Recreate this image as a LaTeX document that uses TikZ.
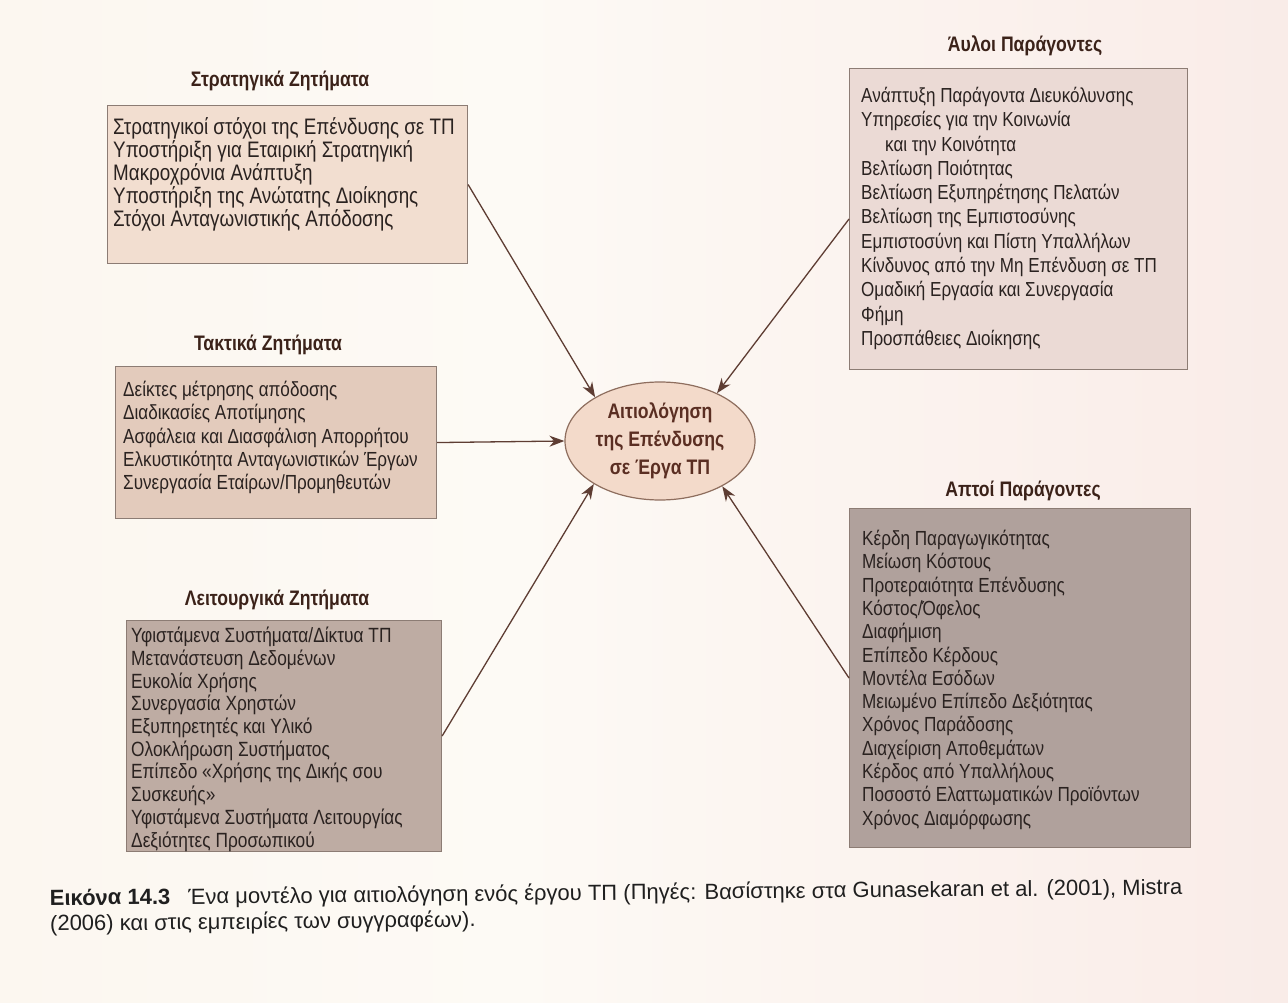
\documentclass[tikz,border=0pt]{standalone}
\usepackage{fontspec}
\setmainfont{Liberation Sans}
\newfontfamily\cond[FakeStretch=0.84]{Liberation Sans}
\usetikzlibrary{shapes.geometric,arrows.meta}

\definecolor{bgL}{HTML}{FAF3EA}
\definecolor{bgM}{HTML}{FDFAF5}
\definecolor{bgR}{HTML}{F6E0DD}
\definecolor{fillS}{HTML}{F2DED0}
\definecolor{fillT}{HTML}{E3CBBC}
\definecolor{fillO}{HTML}{BEACA3}
\definecolor{fillA}{HTML}{EBDAD5}
\definecolor{fillP}{HTML}{B0A19C}
\definecolor{boxline}{HTML}{8C7C74}
\definecolor{ellfill}{HTML}{F3DACA}
\definecolor{ellline}{HTML}{8E6E5E}
\definecolor{elltext}{HTML}{5A2E22}
\definecolor{titletext}{HTML}{3B2219}
\definecolor{bodytext}{HTML}{2A2220}
\definecolor{arrowcol}{HTML}{5E3D33}

\pgfdeclarehorizontalshading{pagebg}{100bp}{color(0bp)=(bgL); color(45bp)=(bgM); color(100bp)=(bgR)}

\tikzset{
  panel/.style={draw=boxline, line width=1.1pt, inner sep=0pt, anchor=north west},
  listtext/.style 2 args={anchor=north west, inner sep=0pt, align=left, text=bodytext,
    font={\cond\fontsize{#1}{#2}\selectfont}},
  heading/.style={inner sep=0pt, text=titletext, font={\cond\bfseries\fontsize{21}{24}\selectfont}},
  feed/.style={draw=arrowcol, line width=1.3pt, -{Stealth[length=15pt,width=11pt]}},
}

\begin{document}
\begin{tikzpicture}[x=1pt,y=-1pt]
\useasboundingbox (0,0) rectangle (1288,1003);
\shade[shading=pagebg] (0,0) rectangle (1288,1003);

% central ellipse
\node[ellipse, draw=ellline, line width=1.2pt, fill=ellfill, minimum width=190, minimum height=118,
      inner sep=0pt, align=center, text=elltext,
      font={\cond\bfseries\fontsize{21}{28}\selectfont}] (ell) at (660,441)
  {Αιτιολόγηση\\της Επένδυσης\\σε Έργα ΤΠ};

% strategic issues
\node[heading] (sttl) at (280,81) {Στρατηγικά Ζητήματα};
\node[panel, fill=fillS, minimum width=360, minimum height=158] (sbox) at (107,105) {};
\node[listtext={22.4}{23}] (stxt) at (113,117)
  {Στρατηγικοί στόχοι της Επένδυσης σε ΤΠ\\
   Υποστήριξη για Εταιρική Στρατηγική\\
   Μακροχρόνια Ανάπτυξη\\
   Υποστήριξη της Ανώτατης Διοίκησης\\
   Στόχοι Ανταγωνιστικής Απόδοσης};

% tactical issues
\node[heading] (tttl) at (268,345) {Τακτικά Ζητήματα};
\node[panel, fill=fillT, minimum width=321, minimum height=152] (tbox) at (115,366) {};
\node[listtext={20.4}{23.3}] (ttxt) at (123,381)
  {Δείκτες μέτρησης απόδοσης\\
   Διαδικασίες Αποτίμησης\\
   Ασφάλεια και Διασφάλιση Απορρήτου\\
   Ελκυστικότητα Ανταγωνιστικών Έργων\\
   Συνεργασία Εταίρων/Προμηθευτών};

% operational issues
\node[heading] (ottl) at (277,600) {Λειτουργικά Ζητήματα};
\node[panel, fill=fillO, minimum width=315, minimum height=231] (obox) at (126,620) {};
\node[listtext={20.6}{22.7}] (otxt) at (131,627)
  {Υφιστάμενα Συστήματα/Δίκτυα ΤΠ\\
   Μετανάστευση Δεδομένων\\
   Ευκολία Χρήσης\\
   Συνεργασία Χρηστών\\
   Εξυπηρετητές και Υλικό\\
   Ολοκλήρωση Συστήματος\\
   Επίπεδο «Χρήσης της Δικής σου\\
   Συσκευής»\\
   Υφιστάμενα Συστήματα Λειτουργίας\\
   Δεξιότητες Προσωπικού};

% intangible factors
\node[heading] (attl) at (1025,46) {Άυλοι Παράγοντες};
\node[panel, fill=fillA, minimum width=338, minimum height=301] (abox) at (849,68) {};
\node[listtext={20.3}{24.3}] (atxt) at (861,87)
  {Ανάπτυξη Παράγοντα Διευκόλυνσης\\
   Υπηρεσίες για την Κοινωνία\\
   \hspace*{24pt}και την Κοινότητα\\
   Βελτίωση Ποιότητας\\
   Βελτίωση Εξυπηρέτησης Πελατών\\
   Βελτίωση της Εμπιστοσύνης\\
   Εμπιστοσύνη και Πίστη Υπαλλήλων\\
   Κίνδυνος από την Μη Επένδυση σε ΤΠ\\
   Ομαδική Εργασία και Συνεργασία\\
   Φήμη\\
   Προσπάθειες Διοίκησης};

% tangible factors
\node[heading] (pttl) at (1023,491) {Απτοί Παράγοντες};
\node[panel, fill=fillP, minimum width=341, minimum height=339] (pbox) at (849,508) {};
\node[listtext={20.4}{23.3}] (ptxt) at (862,530)
  {Κέρδη Παραγωγικότητας\\
   Μείωση Κόστους\\
   Προτεραιότητα Επένδυσης\\
   Κόστος/Όφελος\\
   Διαφήμιση\\
   Επίπεδο Κέρδους\\
   Μοντέλα Εσόδων\\
   Μειωμένο Επίπεδο Δεξιότητας\\
   Χρόνος Παράδοσης\\
   Διαχείριση Αποθεμάτων\\
   Κέρδος από Υπαλλήλους\\
   Ποσοστό Ελαττωματικών Προϊόντων\\
   Χρόνος Διαμόρφωσης};

% connectors into the ellipse
\draw[feed] (sbox.east) -- (ell.146);
\draw[feed] (tbox.east) -- (ell.180);
\draw[feed] (obox.east) -- (ell.213);
\draw[feed] (abox.west) -- (ell.40);
\draw[feed] (pbox.west) -- (ell.-36);

% caption (anchored on the baseline of its second line)
\node[anchor=base west, inner sep=0pt, align=left, text=black!88, rotate=0.55,
      font={\fontsize{22}{25.5}\selectfont}] (cap) at (50,931)
  {\textbf{Εικόνα 14.3}\hspace{18pt}Ένα μοντέλο για αιτιολόγηση ενός έργου ΤΠ (Πηγές: Βασίστηκε στα Gunasekaran et al. (2001), Mistra\\
   (2006) και στις εμπειρίες των συγγραφέων).};
\end{tikzpicture}
\end{document}
